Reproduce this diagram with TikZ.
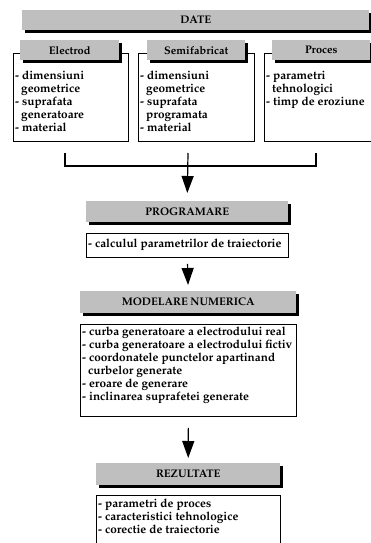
\documentclass[tikz,border=0pt]{standalone}
\usepackage[T1]{fontenc}
\usepackage{mathpazo}
\usetikzlibrary{arrows.meta,shadows}

\tikzset{
  bar/.style={fill=black!25, inner sep=0pt, anchor=north west,
    font=\fontsize{11}{13}\selectfont\bfseries,
    drop shadow={shadow xshift=3pt, shadow yshift=-3pt, fill=black, opacity=1}},
  listbox/.style={draw, line width=0.8pt, inner sep=0pt, anchor=north west},
  listtext/.style={inner sep=0pt, anchor=north west, align=left,
    font=\fontsize{11.8}{13}\selectfont\bfseries},
  flow/.style={line width=1.2pt, -{Triangle[width=12pt,length=17pt]}},
}

\begin{document}
\begin{tikzpicture}[x=1pt,y=-1pt]
  \clip (0,0) rectangle (371,543);

  \node[bar, minimum width=347pt, minimum height=20pt] (date) at (22,10) {DATE};

  % the three data columns
  \node[listbox, minimum width=115pt, minimum height=88pt] (electrod) at (13,53) {};
  \node[listbox, minimum width=116pt, minimum height=88pt] (semifab) at (138,53) {};
  \node[listbox, minimum width=115pt, minimum height=88pt] (proces) at (264,53) {};
  \node[bar, minimum width=99pt, minimum height=20pt] (electrodhead) at (20,40) {Electrod};
  \node[bar, minimum width=98pt, minimum height=20pt] (semifabhead) at (147,40) {Semifabricat};
  \node[bar, minimum width=98pt, minimum height=20pt] (proceshead) at (272,40) {Proces};
  \node[listtext] (electrodtext) at (15,71) {- dimensiuni\\\hspace*{6pt}geometrice\\- suprafata\\\hspace*{6pt}generatoare\\- material};
  \node[listtext] (semifabtext) at (140,71) {- dimensiuni\\\hspace*{6pt}geometrice\\- suprafata\\\hspace*{6pt}programata\\- material};
  \node[listtext] (procestext) at (266,71) {- parametri\\\hspace*{6pt}tehnologici\\- timp de eroziune};

  \coordinate (e) at (65,153);
  \coordinate (s) at (188,153);
  \coordinate (p) at (316,153);
  \coordinate (j) at (188,166);
  \draw[line width=1.2pt] (e) |- (j) -| (p);

  \node[bar, minimum width=202pt, minimum height=21pt] (prog) at (86,201) {PROGRAMARE};
  \node[listbox, minimum width=202pt, minimum height=24pt] (calc) at (86,233) {};
  \node[listtext] (calctext) at (88,239) {- calculul parametrilor de traiectorie};

  \node[bar, minimum width=216pt, minimum height=22pt] (model) at (80,291) {MODELARE NUMERICA};
  \node[listbox, minimum width=216pt, minimum height=92pt] (modelbox) at (80,324) {};
  \node[listtext] (modeltext) at (82,327) {- curba generatoare a electrodului real\\- curba generatoare a electrodului fictiv\\- coordonatele punctelor apartinand\\\hspace*{6pt}curbelor generate\\- eroare de generare\\- inclinarea suprafetei generate};

  \node[bar, minimum width=184pt, minimum height=22pt] (rez) at (96,463) {REZULTATE};
  \node[listbox, minimum width=184pt, minimum height=60pt] (rezbox) at (96,495) {};
  \node[listtext] (reztext) at (98,499) {- parametri de proces\\- caracteristici tehnologice\\- corectie de traiectorie};

  \draw[flow, shorten >=8pt] (s) -- (prog.north);
  \draw[flow, shorten <=6pt, shorten >=6pt] (calc.south) -- (model.north);
  \draw[flow, shorten <=11pt, shorten >=5pt] (modelbox.south) -- (rez.north);
\end{tikzpicture}
\end{document}
